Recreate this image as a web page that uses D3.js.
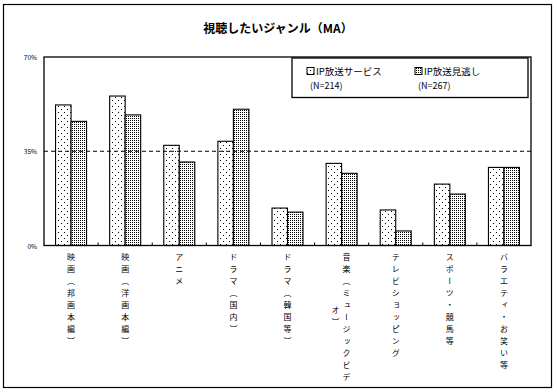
<!DOCTYPE html>
<html><head><meta charset="utf-8">
<script src="https://cdn.jsdelivr.net/npm/d3@7"></script>
<style>
body{margin:0;background:#fff;}
svg{display:block;}
text{font-family:"Noto Sans CJK JP","Noto Sans",sans-serif;fill:#000;}
</style></head>
<body><svg id="c" width="557" height="392"></svg>
<script>
const categories = [
  ["映画（邦画本編）"],
  ["映画（洋画本編）"],
  ["アニメ"],
  ["ドラマ（国内）"],
  ["ドラマ（韓国等）"],
  ["音楽（ミュージックビデ","オ）"],
  ["テレビショッピング"],
  ["スポーツ・競馬等"],
  ["バラエティ・お笑い等"]
];
const seriesNames = ["IP放送サービス","IP放送見逃し"];
const seriesN = ["(N=214)","(N=267)"];
const ipService = [52.2, 55.5, 37.2, 38.7, 13.9, 30.5, 13.2, 22.8, 29.0];
const ipMinogashi = [46.1, 48.5, 31.0, 50.6, 12.4, 26.8, 5.4, 19.1, 29.0];
const yTicks = [0, 35, 70];
const yTickLabels = ["0%", "35%", "70%"];
const refLine = 35;
const title = "視聴したいジャンル（MA）";

const svg = d3.select("#c");
const defs = svg.append("defs");
const p1 = defs.append("pattern").attr("id","sparse").attr("patternUnits","userSpaceOnUse")
  .attr("width",6).attr("height",6);
p1.append("rect").attr("width",6).attr("height",6).attr("fill","#fff");
p1.append("rect").attr("x",1).attr("y",1).attr("width",1).attr("height",1).attr("fill","#000");
p1.append("rect").attr("x",4).attr("y",4).attr("width",1).attr("height",1).attr("fill","#000");
const p2 = defs.append("pattern").attr("id","dense").attr("patternUnits","userSpaceOnUse")
  .attr("width",2).attr("height",2);
p2.append("rect").attr("width",2).attr("height",2).attr("fill","#fff");
p2.append("rect").attr("x",0).attr("y",0).attr("width",1).attr("height",1).attr("fill","#000");
const fills = ["url(#sparse)","url(#dense)"];

// outer frame
svg.append("rect").attr("x",3.5).attr("y",4.5).attr("width",548).attr("height",383)
  .attr("fill","#fff").attr("stroke","#000").attr("stroke-width",1.2);

svg.append("text").attr("x",278).attr("y",27).attr("text-anchor","middle")
  .attr("dominant-baseline","central").attr("font-size",12).attr("font-weight","bold").text(title);

const L = 44, R = 531, T = 57, B = 245.5;
const x = d3.scaleBand().domain(d3.range(categories.length)).range([L,R]).padding(0);
const y = d3.scaleLinear().domain([0,70]).range([B,T]);

const bw = x.bandwidth();
const barW = 15.5;
const data = categories.map((c,i)=>({i, vals:[ipService[i], ipMinogashi[i]]}));

const g = svg.append("g");
data.forEach(d=>{
  d.vals.forEach((v,s)=>{
    const x0 = x(d.i) + bw/2 - barW + s*barW;
    g.append("rect").attr("x",x0).attr("y",y(v)).attr("width",barW).attr("height",B-y(v))
      .attr("fill",fills[s]).attr("stroke","#000").attr("stroke-width",1.1);
  });
});

// dashed reference line
svg.append("line").attr("x1",L).attr("x2",R).attr("y1",y(refLine)).attr("y2",y(refLine))
  .attr("stroke","#000").attr("stroke-width",1).attr("stroke-dasharray","4,3");

// plot frame
svg.append("rect").attr("x",L).attr("y",T).attr("width",R-L).attr("height",B-T)
  .attr("fill","none").attr("stroke","#000").attr("stroke-width",1.3);

// category ticks
svg.selectAll(".ct").data(d3.range(1,categories.length)).join("line")
  .attr("x1",d=>x(d)).attr("x2",d=>x(d)).attr("y1",B).attr("y2",B-3)
  .attr("stroke","#000").attr("stroke-width",1);

// y labels
svg.selectAll(".yl").data(yTicks).join("text")
  .attr("x",37).attr("y",d=>y(d)).attr("text-anchor","end").attr("dominant-baseline","central")
  .attr("font-size",6.5).attr("font-family","Liberation Sans, sans-serif").text((d,i)=>yTickLabels[i]);

// category labels (vertical)
categories.forEach((lines,i)=>{
  const cx = x(i) + bw/2;
  const n = lines.length;
  lines.forEach((t,k)=>{
    let lx = cx, ly = 253;
    if (n === 2) {
      lx = cx + (k===0 ? 5 : -6);
      if (k===1) ly = 306;
    }
    svg.append("text").attr("x",lx).attr("y",ly)
      .style("writing-mode","vertical-rl")
      .attr("font-size",8).attr("letter-spacing",4).text(t);
  });
});

// legend
svg.append("rect").attr("x",292).attr("y",58).attr("width",236).attr("height",39.5)
  .attr("fill","#fff").attr("stroke","#000").attr("stroke-width",1.3);
const lx = [307, 415];
seriesNames.forEach((s,k)=>{
  svg.append("rect").attr("x",lx[k]).attr("y",67.5).attr("width",7).attr("height",7)
    .attr("fill",fills[k]).attr("stroke","#000").attr("stroke-width",1);
  svg.append("text").attr("x",lx[k]+9).attr("y",71).attr("dominant-baseline","central")
    .attr("font-size",9.5).text(s);
  svg.append("text").attr("x",lx[k]+3).attr("y",85.5).attr("dominant-baseline","central")
    .attr("font-size",9).text(seriesN[k]);
});
</script></body></html>
